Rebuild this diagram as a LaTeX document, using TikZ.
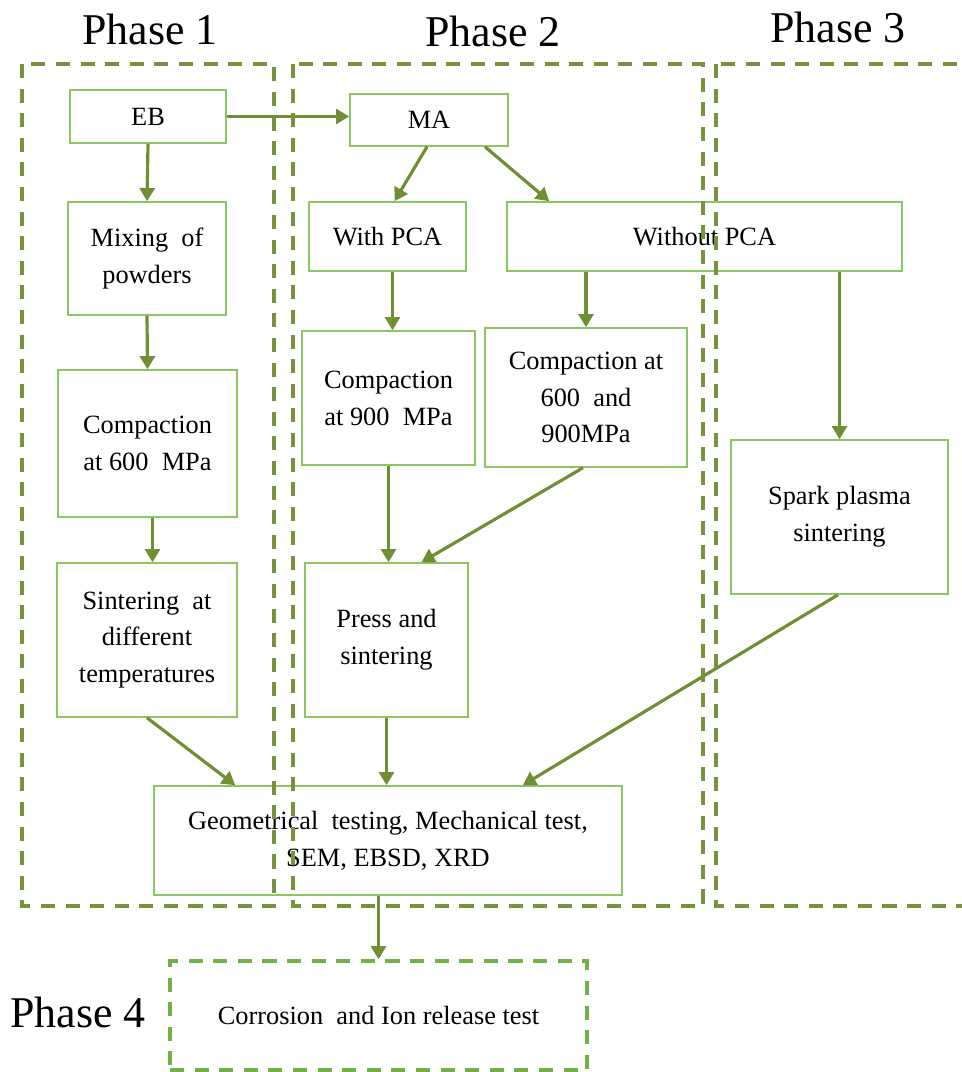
\documentclass[tikz,border=0pt]{standalone}
\usepackage{fontspec}
\setmainfont{Liberation Serif}
\usepackage{tikz}
\usetikzlibrary{arrows.meta,calc,positioning}
\definecolor{frm}{RGB}{118,146,60}
\definecolor{arr}{RGB}{112,142,52}
\definecolor{bx}{RGB}{140,198,96}
\definecolor{lgt}{RGB}{116,176,72}

\begin{document}
\begin{tikzpicture}[x=0.02cm,y=-0.02cm,>={Triangle[length=7.5pt,width=8.5pt]},
  box/.style={draw=bx,line width=0.9pt,align=center,inner sep=2pt,font=\fontsize{15}{21}\selectfont},
  flow/.style={->,arr,line width=1.8pt},
  frame/.style={frm,line width=2.2pt,dash pattern=on 8pt off 6pt},
  phase/.style={font=\fontsize{25}{30}\selectfont}]
  \useasboundingbox (0,0) rectangle (962,1072);
  % phase titles
  \node[phase] (p1) at (150,29) {Phase 1};
  \node[phase] (p2) at (493,31) {Phase 2};
  \node[phase] (p3) at (838,27) {Phase 3};
  \node[phase] (p4) at (78,1012) {Phase 4};
  % phase 1 column
  \node[box,minimum width=3.12cm,minimum height=1.06cm] (EB) at (148,116.5) {EB};
  \node[box,minimum width=3.16cm,minimum height=2.26cm] (Mix) at (147,258.5) {Mixing\ \ of\\powders};
  \node[box,minimum width=3.58cm,minimum height=2.94cm] (Cmp600) at (147.5,443.5) {Compaction\\at 600\ \ MPa};
  \node[box,minimum width=3.6cm,minimum height=3.08cm] (Sint) at (147,640) {Sintering\ \ at\\different\\temperatures};
  % phase 2 column
  \node[box,minimum width=3.16cm,minimum height=1.04cm] (MA) at (429,120) {MA};
  \node[box,minimum width=3.14cm,minimum height=1.38cm] (wPCA) at (387.5,236.5) {With PCA};
  \node[box,minimum width=7.9cm,minimum height=1.38cm] (woPCA) at (704.5,236.5) {Without PCA};
  \node[box,minimum width=3.46cm,minimum height=2.68cm] (Cmp900) at (388.5,398) {Compaction\\at 900\ \ MPa};
  \node[box,minimum width=4.04cm,minimum height=2.78cm] (CmpBoth) at (586,397.5) {Compaction at\\600\ \ and\\900MPa};
  \node[box,minimum width=3.26cm,minimum height=3.08cm] (Press) at (386.5,640) {Press and\\sintering};
  % phase 3 column
  \node[box,minimum width=4.34cm,minimum height=3.08cm] (SPS) at (839.5,517) {Spark plasma\\sintering};
  % testing
  \node[box,minimum width=9.36cm,minimum height=2.18cm] (Geo) at (388,840.5) {Geometrical\ \ testing,\ Mechanical test,\\SEM,\ EBSD,\ XRD};
  \node[box,draw=lgt,line width=1.9pt,dash pattern=on 8pt off 6pt,minimum width=8.34cm,minimum height=2.18cm] (Ion) at (378.5,1015.5) {Corrosion\ \ and Ion release test};
  % arrows
  \draw[flow] (EB.east) -- (EB.east -| MA.west);
  \draw[flow] (EB.south) -- (Mix.north);
  \draw[flow] (Mix.south) -- (Cmp600.north);
  \draw[flow] ([xshift=0.1cm]Cmp600.south) -- ([xshift=0.1cm]Cmp600.south |- Sint.north);
  \draw[flow] ([xshift=-0.04cm]MA.south) -- ([xshift=0.14cm]wPCA.north);
  \draw[flow] ([xshift=1.12cm]MA.south) -- ([xshift=0.86cm]woPCA.north west);
  \draw[flow] ([xshift=0.1cm]wPCA.south) -- ([xshift=0.1cm]wPCA.south |- Cmp900.north);
  \draw[flow] (CmpBoth.north |- woPCA.south) -- (CmpBoth.north);
  \draw[flow] (SPS.north |- woPCA.south) -- (SPS.north);
  \draw[flow] (Cmp900.south) -- (Cmp900.south |- Press.north);
  \draw[flow] ([xshift=-0.06cm]CmpBoth.south) -- ([xshift=0.7cm]Press.north);
  \draw[flow] (Sint.south) -- ([xshift=1.64cm]Geo.north west);
  \draw[flow] (Press.south) -- (Press.south |- Geo.north);
  \draw[flow] ([xshift=-0.03cm]SPS.south) -- ([xshift=-2cm]Geo.north east);
  \draw[flow] (Ion.north |- Geo.south) -- (Ion.north);
  % phase frames
  \draw[frame] (22,64) rectangle (274,906);
  \draw[frame] (293,64) rectangle (703,906);
  \draw[frame] (716,64) rectangle (966,906);
\end{tikzpicture}
\end{document}
